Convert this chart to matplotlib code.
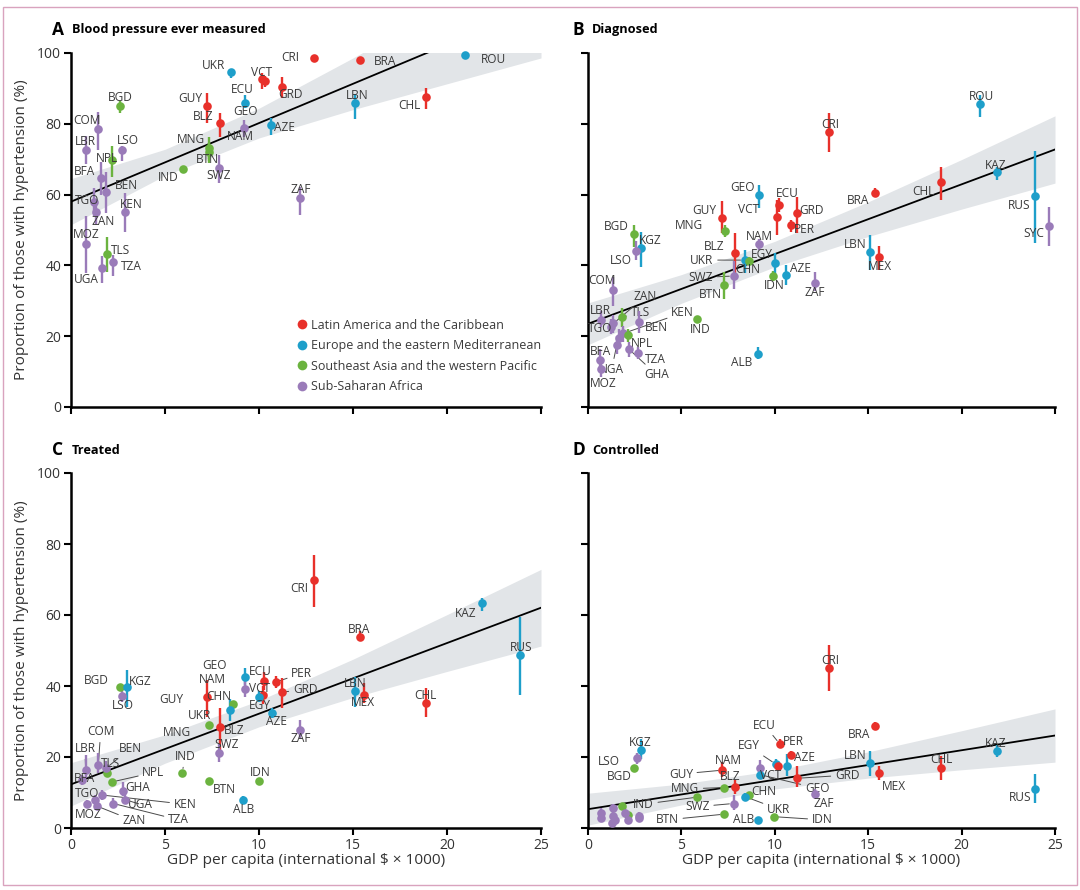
import matplotlib
matplotlib.use('Agg')
import matplotlib.pyplot as plt
from matplotlib.lines import Line2D
from matplotlib.patches import Rectangle
import numpy as np

plt.rcParams['font.family'] = ['Open Sans', 'DejaVu Sans']

COL = {'L': '#E8302A', 'E': '#1E9FCA', 'S': '#6BB33F', 'A': '#9A7BB9'}
REGION_NAMES = {'L': 'Latin America and the Caribbean',
                'E': 'Europe and the eastern Mediterranean',
                'S': 'Southeast Asia and the western Pacific',
                'A': 'Sub-Saharan Africa'}
BAND_COLOR = '#E2E5E8'
TXT = '#3A3A3A'

# ---------------------------------------------------------------- data
# A - blood pressure ever measured
codes_a = ['CRI', 'BRA', 'ROU', 'LBN', 'CHL', 'ZAF', 'GRD', 'VCT', 'ECU', 'UKR', 'GEO',
           'GUY', 'BLZ', 'NAM', 'AZE', 'MNG', 'BTN', 'IND', 'SWZ', 'BGD', 'COM', 'LBR',
           'LSO', 'NPL', 'BFA', 'BEN', 'TGO', 'ZAN', 'KEN', 'MOZ', 'UGA', 'TLS', 'TZA']
region_a = ['L', 'L', 'E', 'E', 'L', 'A', 'L', 'L', 'L', 'E', 'E',
            'L', 'L', 'A', 'E', 'S', 'S', 'S', 'A', 'S', 'A', 'A',
            'A', 'S', 'A', 'A', 'A', 'A', 'A', 'A', 'A', 'S', 'A']
gdp_a = [12.93, 15.35, 20.95, 15.12, 18.9, 12.18, 11.2, 10.14, 10.32, 8.49, 9.26,
         7.25, 7.94, 9.22, 10.66, 7.34, 7.34, 5.94, 7.87, 2.61, 1.45, 0.78,
         2.70, 2.2, 1.58, 1.86, 1.24, 1.33, 2.87, 0.78, 1.67, 1.93, 2.25]
val_a = [98.5, 98.0, 99.3, 86.0, 87.6, 59.0, 90.5, 92.6, 92.1, 94.5, 86.0,
         85.0, 80.3, 78.7, 79.7, 73.3, 72.1, 67.2, 67.6, 85.1, 78.5, 72.6,
         72.6, 69.8, 64.6, 60.6, 58.0, 55.2, 55.2, 46.0, 39.2, 43.2, 40.9]
lo_a = [97.8, 97.3, 98.8, 81.3, 84.1, 54.2, 87.2, 89.7, 90.5, 92.8, 84.4,
        80.3, 76.4, 76.4, 76.8, 68.8, 69.5, 66.5, 63.2, 83.0, 72.6, 68.6,
        69.5, 64.9, 59.9, 54.7, 54.0, 51.5, 49.5, 37.8, 35.1, 38.2, 37.0]
hi_a = [99.2, 98.7, 99.7, 88.3, 90.0, 62.2, 93.3, 94.3, 93.5, 95.2, 88.1,
        88.6, 83.1, 81.1, 81.5, 76.4, 74.5, 67.9, 71.2, 86.3, 83.4, 76.6,
        73.6, 73.7, 69.3, 66.5, 62.0, 58.5, 60.4, 54.0, 42.7, 47.9, 42.9]
fit_a = (58.0, 2.22)                       # intercept, slope
ci_a = [6.5, 3.7, 4.2, 7.3, 11.1, 14.9]    # half width at BAND_X

# B - diagnosed
codes_b = ['ROU', 'CRI', 'KAZ', 'CHL', 'BRA', 'RUS', 'SYC', 'LBN', 'MEX', 'ZAF', 'AZE',
           'IDN', 'EGY', 'GEO', 'VCT', 'ECU', 'GRD', 'PER', 'GUY', 'MNG', 'BLZ', 'UKR',
           'CHN', 'NAM', 'SWZ', 'BTN', 'ALB', 'IND', 'BGD', 'KGZ', 'LSO', 'COM', 'ZAN',
           'TLS', 'LBR', 'TGO', 'BEN', 'KEN', 'NPL', 'TZA', 'GHA', 'BFA', 'NGA', 'MOZ', 'UGA']
region_b = ['E', 'L', 'E', 'L', 'L', 'E', 'A', 'E', 'L', 'A', 'E',
            'S', 'E', 'E', 'L', 'L', 'L', 'L', 'L', 'S', 'L', 'E',
            'S', 'A', 'A', 'S', 'E', 'S', 'S', 'E', 'A', 'A', 'A',
            'S', 'A', 'A', 'A', 'A', 'S', 'A', 'A', 'A', 'A', 'A', 'A']
gdp_b = [20.98, 12.92, 21.91, 18.91, 15.35, 23.91, 24.7, 15.08, 15.59, 12.13, 10.62,
         9.9, 10.03, 9.18, 10.1, 10.24, 11.17, 10.85, 7.17, 7.31, 7.85, 8.39,
         8.64, 9.17, 7.79, 7.26, 9.09, 5.83, 2.48, 2.83, 2.57, 1.32, 1.36,
         1.81, 0.68, 1.22, 2.75, 1.9, 2.13, 2.7, 2.2, 0.64, 1.54, 0.72, 1.65]
val_b = [85.5, 77.8, 66.3, 63.5, 60.5, 59.6, 51.2, 43.7, 42.5, 34.9, 37.2,
         37.0, 40.6, 59.9, 53.8, 57.1, 54.7, 51.4, 53.3, 49.8, 43.6, 41.5,
         41.2, 46.0, 37.0, 34.5, 15.0, 24.8, 48.9, 44.8, 44.2, 33.1, 23.6,
         25.3, 24.6, 22.7, 24.1, 20.8, 20.3, 15.3, 16.3, 13.3, 17.5, 10.8, 19.5]
lo_b = [82.0, 72.1, 64.1, 58.5, 59.4, 46.2, 45.6, 38.7, 38.7, 32.8, 34.6,
        35.6, 36.0, 56.1, 48.6, 55.2, 49.1, 49.5, 49.1, 48.0, 37.8, 37.8,
        40.0, 44.3, 33.2, 30.5, 13.7, 24.3, 45.3, 39.6, 41.5, 28.5, 21.0,
        22.5, 22.5, 20.5, 21.0, 18.5, 18.5, 13.5, 14.0, 10.0, 15.0, 8.5, 17.0]
hi_b = [88.1, 83.0, 67.9, 67.9, 61.8, 72.4, 56.4, 48.6, 45.5, 38.2, 40.1,
        38.4, 43.5, 62.7, 58.5, 59.0, 59.2, 52.8, 58.3, 51.5, 49.1, 44.3,
        42.4, 47.5, 41.3, 38.0, 16.9, 25.3, 51.4, 49.5, 46.8, 36.8, 26.0,
        28.0, 27.0, 25.0, 27.0, 23.0, 22.0, 17.0, 18.5, 16.5, 20.0, 13.0, 22.0]
fit_b = (23.5, 1.97)
ci_b = [5.9, 4.05, 3.6, 4.9, 7.0, 9.5]

# C - treated
codes_c = ['CRI', 'BRA', 'KAZ', 'RUS', 'CHL', 'LBN', 'MEX', 'ZAF', 'AZE', 'GRD', 'PER',
           'ECU', 'GEO', 'NAM', 'VCT', 'EGY', 'GUY', 'CHN', 'UKR', 'MNG', 'BLZ', 'SWZ',
           'IND', 'BTN', 'IDN', 'ALB', 'BGD', 'KGZ', 'LSO', 'COM', 'LBR', 'TLS', 'BEN',
           'NPL', 'BFA', 'GHA', 'KEN', 'UGA', 'TZA', 'ZAN', 'TGO', 'MOZ']
region_c = ['L', 'L', 'E', 'E', 'L', 'E', 'L', 'A', 'E', 'L', 'L',
            'L', 'E', 'A', 'L', 'E', 'L', 'S', 'E', 'S', 'L', 'A',
            'S', 'S', 'S', 'E', 'S', 'E', 'A', 'A', 'A', 'S', 'A',
            'S', 'A', 'A', 'A', 'A', 'A', 'A', 'A', 'A']
gdp_c = [12.94, 15.36, 21.86, 23.87, 18.9, 15.12, 15.59, 12.18, 10.69, 11.2, 10.9,
         10.28, 9.26, 9.26, 10.19, 10.02, 7.22, 8.63, 8.47, 7.36, 7.94, 7.85,
         5.92, 7.36, 9.98, 9.13, 2.61, 2.96, 2.7, 1.45, 0.78, 1.9, 1.86,
         2.2, 0.6, 2.78, 1.63, 2.87, 2.25, 1.37, 1.28, 0.83]
val_c = [69.9, 53.9, 63.3, 48.7, 35.3, 38.6, 37.6, 27.6, 32.4, 38.3, 41.1,
         41.5, 42.6, 39.1, 37.5, 37.0, 36.8, 34.8, 33.2, 28.9, 28.4, 21.2,
         15.6, 13.3, 13.3, 7.9, 39.8, 39.8, 37.2, 17.7, 16.3, 15.6, 16.8,
         13.0, 13.5, 10.4, 9.3, 8.0, 6.9, 6.2, 8.0, 6.9]
lo_c = [62.3, 53.0, 61.1, 37.5, 31.4, 34.2, 35.2, 25.4, 31.0, 33.7, 39.5,
        39.0, 40.4, 37.0, 35.0, 35.5, 31.4, 34.0, 30.2, 28.3, 22.0, 18.6,
        15.0, 12.7, 12.7, 7.0, 39.0, 34.2, 35.5, 15.6, 14.0, 14.5, 15.0,
        12.4, 12.0, 9.0, 8.0, 7.0, 5.5, 5.0, 6.8, 5.8]
hi_c = [76.9, 55.5, 64.7, 59.5, 39.4, 42.6, 40.9, 30.5, 33.8, 42.2, 42.8,
        44.0, 45.2, 41.4, 40.0, 38.5, 41.7, 35.6, 36.3, 29.5, 33.7, 23.8,
        16.2, 13.9, 13.9, 9.0, 40.6, 44.5, 39.5, 21.0, 20.5, 16.7, 19.0,
        13.6, 15.0, 13.0, 10.8, 9.5, 8.5, 7.5, 9.2, 8.0]
fit_c = (12.3, 1.99)
ci_c = [6.1, 4.0, 3.7, 5.4, 8.0, 10.8]

# D - controlled
codes_d = ['CRI', 'BRA', 'LBN', 'MEX', 'CHL', 'KAZ', 'RUS', 'ZAF', 'GRD', 'AZE', 'PER',
           'ECU', 'EGY', 'VCT', 'NAM', 'GEO', 'GUY', 'BLZ', 'MNG', 'CHN', 'UKR', 'IND',
           'SWZ', 'BTN', 'ALB', 'IDN', 'KGZ', 'LSO', 'BGD', 'TLS', 'COM', 'LBR', 'BEN',
           'NPL', 'BFA', 'TGO', 'ZAN', 'KEN', 'MOZ', 'UGA', 'TZA']
region_d = ['L', 'L', 'E', 'L', 'L', 'E', 'E', 'A', 'L', 'E', 'L',
            'L', 'E', 'L', 'A', 'E', 'L', 'L', 'S', 'S', 'E', 'S',
            'A', 'S', 'E', 'S', 'E', 'A', 'S', 'S', 'A', 'A', 'A',
            'S', 'A', 'A', 'A', 'A', 'A', 'A', 'A']
gdp_d = [12.92, 15.35, 15.1, 15.59, 18.91, 21.91, 23.91, 12.13, 11.19, 10.65, 10.87,
         10.26, 10.05, 10.15, 9.22, 9.22, 7.2, 7.88, 7.29, 8.63, 8.43, 5.86,
         7.79, 7.29, 9.1, 9.94, 2.83, 2.6, 2.48, 1.84, 0.68, 0.68, 1.36,
         2.13, 1.36, 1.96, 2.16, 2.75, 1.27, 1.45, 2.75]
val_d = [45.0, 28.8, 18.4, 15.4, 17.0, 21.7, 11.0, 9.6, 14.0, 17.5, 20.6,
         23.7, 18.0, 17.5, 17.0, 15.0, 16.3, 11.6, 11.4, 9.3, 8.8, 8.7,
         6.9, 3.9, 2.3, 3.2, 22.0, 19.6, 16.8, 6.3, 4.3, 2.7, 5.6,
         3.7, 3.4, 4.3, 2.3, 2.7, 1.5, 2.3, 3.5]
lo_d = [38.5, 27.9, 14.7, 13.5, 13.6, 20.0, 7.1, 8.3, 11.5, 14.7, 19.5,
        22.5, 16.5, 16.0, 15.5, 14.0, 14.5, 9.5, 10.8, 8.7, 7.5, 8.1,
        5.0, 3.3, 1.8, 2.6, 19.5, 18.0, 16.2, 5.7, 3.0, 1.8, 4.5,
        3.1, 2.5, 3.2, 1.5, 1.8, 0.8, 1.5, 2.5]
hi_d = [51.6, 29.8, 21.6, 17.6, 20.3, 23.3, 15.2, 11.0, 17.5, 20.9, 21.8,
        25.0, 19.5, 19.0, 19.2, 16.0, 18.5, 13.5, 12.0, 9.9, 10.0, 9.3,
        9.2, 4.5, 2.8, 3.8, 25.0, 21.0, 17.4, 6.9, 5.5, 3.8, 6.8,
        4.3, 4.5, 5.5, 3.2, 3.8, 2.3, 3.2, 4.5]
fit_d = (5.3, 0.83)
ci_d = [4.5, 2.95, 2.6, 3.7, 5.5, 7.5]

BAND_X = [0, 5, 10, 15, 20, 25]

# ------------------------------------------------------- label layout
# text position (data coords) for each code label
LAB_A = {'CRI': (11.65, 98.6), 'BRA': (16.7, 97.7), 'ROU': (22.46, 98.3), 'LBN': (15.2, 87.9),
         'CHL': (18.0, 85.1), 'ZAF': (12.22, 61.3), 'GRD': (11.65, 88.3), 'VCT': (10.14, 94.6),
         'ECU': (9.13, 89.7), 'UKR': (7.6, 96.4), 'GEO': (9.26, 83.6), 'GUY': (6.37, 87.2),
         'BLZ': (7.04, 82.2), 'NAM': (8.99, 76.4), 'AZE': (11.38, 78.9), 'MNG': (6.37, 75.6),
         'BTN': (7.27, 69.8), 'IND': (5.18, 64.9), 'SWZ': (7.87, 65.3), 'BGD': (2.64, 87.5),
         'COM': (0.87, 80.9), 'LBR': (0.74, 75.1), 'LSO': (3.05, 75.4), 'NPL': (1.9, 70.2),
         'BFA': (0.74, 66.5), 'BEN': (2.96, 62.7), 'TGO': (0.87, 58.3), 'ZAN': (1.72, 52.5),
         'KEN': (3.23, 57.3), 'MOZ': (0.83, 48.6), 'UGA': (0.83, 35.9), 'TLS': (2.61, 44.1),
         'TZA': (3.19, 39.6)}
LEAD_A = set()

LAB_B = {'ROU': (21.07, 87.7), 'CRI': (12.98, 79.9), 'KAZ': (21.82, 68.2), 'CHL': (17.98, 60.8),
         'BRA': (14.46, 58.3), 'RUS': (23.09, 57.0), 'SYC': (23.88, 48.9), 'LBN': (14.33, 46.0),
         'MEX': (15.62, 39.8), 'ZAF': (12.13, 32.3), 'AZE': (11.37, 39.0), 'IDN': (9.99, 34.2),
         'EGY': (9.3, 43.2), 'GEO': (8.27, 62.1), 'VCT': (8.6, 55.8), 'ECU': (10.69, 60.4),
         'GRD': (11.96, 55.5), 'PER': (11.6, 50.2), 'GUY': (6.24, 55.5), 'MNG': (5.43, 51.2),
         'BLZ': (6.76, 45.3), 'UKR': (6.1, 41.5), 'CHN': (8.56, 38.9), 'NAM': (9.17, 48.1),
         'SWZ': (6.04, 36.6), 'BTN': (6.54, 31.9), 'ALB': (8.2, 12.5), 'IND': (6.0, 21.9),
         'BGD': (1.5, 51.1), 'KGZ': (3.32, 46.9), 'LSO': (1.75, 41.5), 'COM': (0.77, 35.7),
         'ZAN': (3.06, 31.2), 'TLS': (2.79, 26.8), 'LBR': (0.68, 27.4), 'TGO': (0.64, 22.2),
         'BEN': (3.65, 22.4), 'KEN': (5.06, 26.6), 'NPL': (2.91, 17.8), 'TZA': (3.63, 13.3),
         'GHA': (3.65, 9.2), 'BFA': (0.68, 15.6), 'NGA': (1.27, 10.7), 'MOZ': (0.79, 6.7)}
LEAD_B = {'UKR', 'SWZ', 'ZAN', 'TLS', 'BEN', 'KEN', 'NPL', 'TZA', 'GHA', 'NGA', 'MOZ', 'IND'}

LAB_C = {'CRI': (12.14, 67.5), 'BRA': (15.34, 56.0), 'KAZ': (21.01, 60.5), 'RUS': (23.92, 50.8),
         'CHL': (18.85, 37.3), 'LBN': (15.12, 40.8), 'MEX': (15.55, 35.4), 'ZAF': (12.24, 25.1),
         'AZE': (10.94, 29.9), 'GRD': (12.45, 38.9), 'PER': (12.27, 43.6), 'ECU': (10.05, 44.0),
         'GEO': (7.62, 45.9), 'NAM': (7.54, 41.7), 'VCT': (10.05, 39.4), 'EGY': (10.05, 34.6),
         'GUY': (5.36, 36.3), 'CHN': (7.84, 37.0), 'UKR': (6.82, 31.8), 'MNG': (5.62, 26.8),
         'BLZ': (8.67, 27.6), 'SWZ': (8.28, 23.4), 'IND': (6.06, 20.1), 'BTN': (8.14, 10.9),
         'IDN': (10.05, 15.6), 'ALB': (9.17, 5.3), 'BGD': (1.33, 41.5), 'KGZ': (3.67, 41.2),
         'LSO': (2.78, 34.6), 'COM': (1.58, 27.1), 'LBR': (0.74, 22.4), 'TLS': (2.11, 18.2),
         'BEN': (3.14, 22.4), 'NPL': (4.38, 15.6), 'BFA': (0.74, 14.0), 'GHA': (3.55, 11.4),
         'TGO': (0.87, 9.8), 'UGA': (3.67, 6.7), 'KEN': (6.06, 6.7), 'TZA': (5.71, 2.3),
         'ZAN': (3.35, 2.0), 'MOZ': (0.92, 3.9)}
LEAD_C = {'GRD', 'PER', 'IND', 'COM', 'LBR', 'BEN', 'NPL', 'UGA', 'KEN', 'TZA', 'ZAN'}

LAB_D = {'CRI': (12.98, 47.3), 'BRA': (14.49, 26.2), 'LBN': (14.32, 20.3), 'MEX': (16.37, 11.6),
         'CHL': (18.91, 19.3), 'KAZ': (21.82, 23.7), 'RUS': (23.13, 8.6), 'ZAF': (12.62, 7.0),
         'GEO': (12.26, 11.2), 'GRD': (13.87, 14.9), 'AZE': (11.58, 19.9), 'PER': (11.0, 24.3),
         'ECU': (9.45, 29.0), 'EGY': (8.6, 23.1), 'VCT': (9.76, 14.9), 'NAM': (7.49, 19.0),
         'GUY': (4.97, 15.2), 'BLZ': (7.61, 14.5), 'MNG': (5.2, 11.0), 'CHN': (9.4, 10.2),
         'UKR': (10.2, 5.3), 'IND': (2.97, 6.7), 'SWZ': (5.86, 6.0), 'BTN': (4.25, 2.3),
         'ALB': (8.33, 2.3), 'IDN': (12.53, 2.3), 'KGZ': (2.79, 24.0), 'LSO': (1.13, 18.7),
         'BGD': (1.68, 14.5)}
LEAD_D = {'GEO', 'GRD', 'AZE', 'ECU', 'EGY', 'GUY', 'MNG', 'UKR', 'IND', 'SWZ', 'BTN', 'IDN'}


def draw_panel(ax, codes, regions, gdp, vals, lo, hi, fit, ci, labels, leaders):
    bx = np.array(BAND_X, dtype=float)
    by = fit[0] + fit[1] * bx
    hw = np.array(ci)
    ax.fill_between(bx, by - hw, by + hw, color=BAND_COLOR, lw=0, zorder=1)
    ax.plot([0, 25], [fit[0], fit[0] + 25 * fit[1]], color='black', lw=1.3, zorder=2)

    pos = {}
    for c, r, x, y, l, h in zip(codes, regions, gdp, vals, lo, hi):
        ax.errorbar(x, y, yerr=[[y - l], [h - y]], fmt='o', color=COL[r], ms=6.2,
                    elinewidth=1.7, capsize=0, mew=0, zorder=4, clip_on=False)
        pos[c] = (x, y)

    for c, (tx, ty) in labels.items():
        if c in leaders:
            ax.annotate(c, xy=pos[c], xytext=(tx, ty), ha='center', va='center',
                        fontsize=8.6, color=TXT, zorder=3,
                        arrowprops=dict(arrowstyle='-', color='#4A4A4A', lw=0.7,
                                        shrinkA=1, shrinkB=3))
        else:
            ax.text(tx, ty, c, ha='center', va='center', fontsize=8.6, color=TXT, zorder=5)

    ax.set_xlim(0, 25)
    ax.set_ylim(0, 100)
    ax.set_xticks(np.arange(0, 26, 5))
    ax.set_yticks(np.arange(0, 101, 20))
    for s in ['top', 'right']:
        ax.spines[s].set_visible(False)
    for s in ['left', 'bottom']:
        ax.spines[s].set_linewidth(1.8)
    ax.tick_params(direction='out', length=5, width=1.5, labelsize=10, colors='black',
                   labelcolor='#333333', pad=2)


fig = plt.figure(figsize=(10.8, 8.9), dpi=100)

W, H = 1080, 890
boxes = {
    'A': (71, 53, 541, 407), 'B': (588, 53, 1055, 407),
    'C': (71, 473, 541, 828), 'D': (588, 473, 1055, 828),
}
axes = {}
for k, (x0, y0, x1, y1) in boxes.items():
    axes[k] = fig.add_axes([x0 / W, 1 - y1 / H, (x1 - x0) / W, (y1 - y0) / H])

draw_panel(axes['A'], codes_a, region_a, gdp_a, val_a, lo_a, hi_a, fit_a, ci_a, LAB_A, LEAD_A)
draw_panel(axes['B'], codes_b, region_b, gdp_b, val_b, lo_b, hi_b, fit_b, ci_b, LAB_B, LEAD_B)
draw_panel(axes['C'], codes_c, region_c, gdp_c, val_c, lo_c, hi_c, fit_c, ci_c, LAB_C, LEAD_C)
draw_panel(axes['D'], codes_d, region_d, gdp_d, val_d, lo_d, hi_d, fit_d, ci_d, LAB_D, LEAD_D)

axes['A'].tick_params(labelbottom=False)
axes['B'].tick_params(labelbottom=False, labelleft=False)
axes['D'].tick_params(labelleft=False)

# legend in panel A
handles = [Line2D([], [], ls='none', marker='o', ms=7, mew=0, color=COL[r]) for r in 'LESA']
axes['A'].legend(handles, [REGION_NAMES[r] for r in 'LESA'], loc='lower right',
                 bbox_to_anchor=(1.01, 0.025), frameon=False, fontsize=9.0,
                 handlelength=0.7, handletextpad=0.3, labelspacing=0.6, borderaxespad=0,
                 labelcolor=TXT)

# panel titles
titles = [('A', 'Blood pressure ever measured', 52, 72, 30),
          ('B', 'Diagnosed', 572, 592, 30),
          ('C', 'Treated', 52, 72, 450),
          ('D', 'Controlled', 572, 592, 450)]
for letter, name, lx, tx, ty in titles:
    fig.text(lx / W, 1 - ty / H, letter, fontsize=12.5, fontweight='bold', va='center')
    fig.text(tx / W, 1 - ty / H, name, fontsize=9.2, fontweight='bold', va='center')

for yc in [(53 + 407) / 2, (473 + 828) / 2]:
    fig.text(22 / W, 1 - yc / H, 'Proportion of those with hypertension (%)',
             rotation=90, ha='center', va='center', fontsize=11.1, color='#333333')
for xc in [(71 + 541) / 2, (588 + 1055) / 2]:
    fig.text(xc / W, 1 - 861 / H, 'GDP per capita (international $ \u00d7 1000)',
             ha='center', va='center', fontsize=11.1, color='#333333')

fig.patches.append(Rectangle((3 / W, 5 / H), 1 - 6 / W, 1 - 12 / H, transform=fig.transFigure,
                             fill=False, edgecolor='#D9A3BE', lw=1.0))

fig.savefig('out.png', dpi=100)
